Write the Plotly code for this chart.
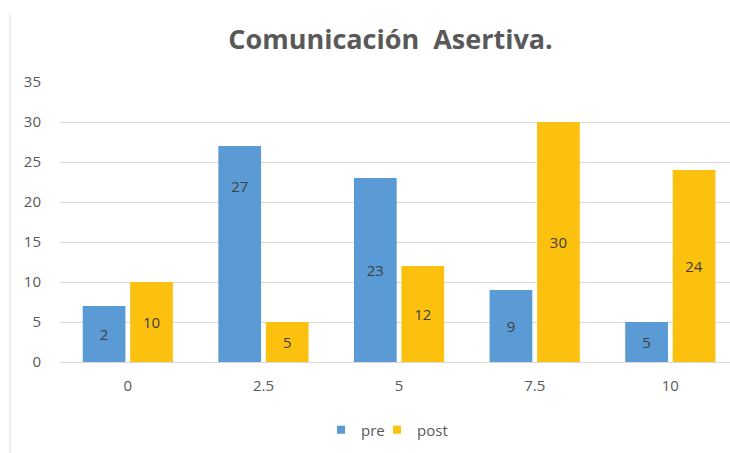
import plotly.graph_objects as go

categories = ["0", "2.5", "5", "7.5", "10"]
pre_values = [7, 27, 23, 9, 5]
pre_labels = ["2", "27", "23", "9", "5"]
post_values = [10, 5, 12, 30, 24]
post_labels = ["10", "5", "12", "30", "24"]
y_ticks = [0, 5, 10, 15, 20, 25, 30, 35]

FONT = "Open Sans, Liberation Sans, sans-serif"
BLUE = "#5b9bd5"
GOLD = "#fcc00e"

# the "27" label sits near the top of its bar in the reference: pad it with blank lines
pre_text = [lbl + ("<br>" * 7 + "&nbsp;" if lbl == "27" else "") for lbl in pre_labels]

fig = go.Figure()
fig.add_trace(go.Bar(
    name="pre", x=categories, y=pre_values, text=pre_text, showlegend=False,
    marker=dict(color=BLUE, line=dict(width=0)),
    textposition="inside", insidetextanchor="middle",
    textfont=dict(color="#404040", size=15, family=FONT),
))
fig.add_trace(go.Bar(
    name="post", x=categories, y=post_values, text=post_labels, showlegend=False,
    marker=dict(color=GOLD, line=dict(width=0)),
    textposition="inside", insidetextanchor="middle",
    textfont=dict(color="#404040", size=15, family=FONT),
))
# legend entries with small square swatches
fig.add_trace(go.Scatter(name="pre", x=[None], y=[None], mode="markers", legend="legend",
                         marker=dict(symbol="square", size=8, color=BLUE)))
fig.add_trace(go.Scatter(name="post", x=[None], y=[None], mode="markers", legend="legend2",
                         marker=dict(symbol="square", size=8, color=GOLD)))

legend_common = dict(orientation="h", xanchor="left", y=-0.243, yanchor="middle",
                     font=dict(size=15, color="#595959", family=FONT),
                     itemwidth=30, bgcolor="rgba(0,0,0,0)")

fig.update_layout(
    width=730, height=453,
    margin=dict(l=60, r=0, t=82, b=91),
    paper_bgcolor="white", plot_bgcolor="white",
    barmode="group", bargap=0.3, bargroupgap=0.1,
    title=dict(text="<b>Comunicación  Asertiva.</b>", x=0.535, xanchor="center",
               y=0.912, yanchor="middle",
               font=dict(family=FONT, size=27, color="#595959")),
    font=dict(family=FONT, size=15, color="#595959"),
    showlegend=True,
    legend=dict(x=0.3896, **legend_common),
    legend2=dict(x=0.4732, **legend_common),
)
fig.update_xaxes(type="category", range=[-0.5, 4.44], showgrid=False,
                 showline=True, linecolor="#d9d9d9", linewidth=1,
                 ticks="", ticklabelstandoff=10,
                 tickfont=dict(size=15, color="#595959", family=FONT))
fig.update_yaxes(range=[0, 35], tickvals=y_ticks, showgrid=True, gridcolor="#d9d9d9",
                 gridwidth=1, zeroline=False, showline=False, ticks="",
                 ticklabelstandoff=18,
                 tickfont=dict(size=15, color="#595959", family=FONT))

fig.add_shape(type="line", xref="paper", yref="paper",
              x0=-0.0746, x1=-0.0746, y0=-0.33, y1=1.243,
              line=dict(color="#d9d9d9", width=1))

fig.write_html("out.html", config={"displayModeBar": False},
               post_script="document.body.style.margin='0';")
